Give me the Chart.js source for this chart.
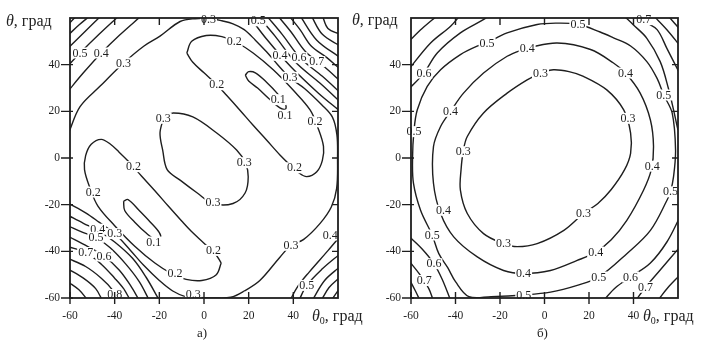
<!DOCTYPE html>
<html lang="ru">
<head>
<meta charset="UTF-8">
<title>Контурные карты</title>
<script src="https://cdn.jsdelivr.net/npm/chart.js@4.4.1/dist/chart.umd.min.js"></script>
<style>
  body { margin: 0; background: #fff; }
  #wrap { position: relative; width: 701px; height: 340px; font-family: "Liberation Serif", serif; color: #222; }
  canvas { position: absolute; top: 0; }
  #cl { left: 0; }
  #cr { left: 350px; }
  .t { position: absolute; font-size: 16px; white-space: nowrap; line-height: 16px; }
  .t i { font-style: italic; }
  .t .s { font-size: 10px; position: relative; top: 3px; }
  .cap { position: absolute; font-size: 13px; line-height: 14px; }
</style>
</head>
<body>
<div id="wrap">
  <canvas id="cl" width="350" height="340"></canvas>
  <canvas id="cr" width="351" height="340"></canvas>
  <div class="t" style="left:6px;top:13px"><i>θ</i>, град</div>
  <div class="t" style="left:352px;top:12px"><i>θ</i>, град</div>
  <div class="t" style="left:312px;top:308px"><i>θ</i><span class="s">0</span>, град</div>
  <div class="t" style="left:643px;top:308px"><i>θ</i><span class="s">0</span>, град</div>
  <div class="cap" style="left:197px;top:326px">а)</div>
  <div class="cap" style="left:537px;top:326px">б)</div>
</div>
<script>
// tick values, both axes, both plots
const tickValues = [-60, -40, -20, 0, 20, 40, 60];

// plot a): contour polylines, [x, y] in degrees
const leftLines = [
  // 0.1 islands
  [[18.5,35.5],[20,37],[23,36.5],[28,32.5],[33,27.5],[36.5,23],[36.5,21],[34,21.5],[29,25.5],[24,30],[20,33],[18.5,35.5]],
  [[-36,-18.5],[-34,-17.8],[-29,-22.5],[-24,-27.5],[-20,-32],[-19.5,-34.5],[-21.5,-35],[-25.5,-32.5],[-31,-27.5],[-35.5,-22.5],[-36,-18.5]],
  // 0.2 loops
  [[-7.7,45],[-5.5,50],[1,52.5],[8,52],[14.6,49.5],[22,45],[31,37.8],[40,29],[47.5,20.6],[51,13],[53.5,5],[53,-1],[50.5,-5.9],[46,-8],[42,-6],[38,-2.5],[34,1.3],[28,7.7],[22,14],[16,20.6],[10,27],[5.7,31.4],[0,36.5],[-5,41],[-7.7,45]],
  [[7.7,-45],[5.5,-50],[-1,-52.5],[-8,-52],[-14.6,-49.5],[-22,-45],[-31,-37.8],[-40,-29],[-47.5,-20.6],[-51,-13],[-53.5,-5],[-53,1],[-50.5,5.9],[-46,8],[-42,6],[-38,2.5],[-34,-1.3],[-28,-7.7],[-22,-14],[-16,-20.6],[-10,-27],[-5.7,-31.4],[0,-36.5],[5,-41],[7.7,-45]],
  // 0.3 centre
  [[-18,17.5],[-13.8,19.3],[-5,17.6],[5.7,10.7],[14.6,3.4],[18.5,-2],[19.8,-8],[18.4,-15],[13,-19.5],[4,-19.5],[-3,-15],[-10.7,-9.5],[-16.5,-5],[-18.5,3.4],[-19.7,10.7],[-18,17.5]],
  // 0.3 along the border
  [[-60.5,11],[-55.5,22],[-46.6,30.7],[-36,40.7],[-27,47.9],[-19.7,52.2],[-10.7,58.5],[-4,59.7],[3,59.7],[8,58.8],[13,57.5],[18,55],[23,50.5],[28,45.5],[33,40],[38.5,34.4],[45,29.8],[52.7,22.8],[57.5,17.5],[59.5,10],[59.8,0],[59.4,-13],[57,-21],[52,-28],[44.5,-35],[39,-37.4],[34,-42.5],[25,-52.5],[18,-57],[12,-59.7],[5,-60],[-3,-59.7],[-8,-59.5],[-14,-57],[-20,-52.5],[-27,-46],[-33,-39.5],[-40,-32.4],[-47,-27.5],[-53,-23.5],[-60.5,-19.5]],
  // top-left corner 0.4..0.8
  [[-61,28.5],[-54,36.5],[-46,45],[-38,52.5],[-28,61]],
  [[-61,39.5],[-55.5,45],[-47,53],[-38,61]],
  [[-61,47],[-53.5,54],[-46,61]],
  [[-61,52.5],[-56,57],[-51,61]],
  [[-61,57],[-57,61]],
  // top-right corner 0.4..1.1
  [[20,61],[28,51],[39,39],[51,28],[61,20]],
  [[24,61],[32,52],[41,41],[52,32],[61,24]],
  [[28,61],[35,53],[43,43],[53,35],[61,28]],
  [[33,61],[39,54],[45.5,45.5],[54,39],[61,33]],
  [[38,61],[43,55],[48,48],[55,43],[61,38]],
  [[43,61],[50.5,50.5],[61,43]],
  [[48,61],[53,53],[61,48]],
  [[53,61],[55.5,55.5],[61,53]],
  // bottom-left corner 0.4..1.0
  [[-61,-24.5],[-54,-28],[-47.6,-31],[-40,-36],[-32,-43],[-26,-51],[-20,-61]],
  [[-61,-29],[-54,-32],[-48.4,-34],[-42,-38.5],[-35,-45.5],[-29,-53],[-24.5,-61]],
  [[-61,-33.5],[-52,-38],[-44.8,-42],[-38,-48],[-33,-54.5],[-29,-61]],
  [[-61,-38],[-53,-40.5],[-46,-45.5],[-40,-51.5],[-36,-56],[-33,-61]],
  [[-61,-43],[-53,-46.5],[-46,-51.5],[-41,-56.5],[-38.5,-61]],
  [[-61,-47.5],[-54,-51.5],[-48.5,-56],[-45.5,-61]],
  [[-61,-53],[-56,-56.5],[-52,-61]],
  // bottom-right corner 0.4..0.8
  [[61,-33.5],[55.6,-39.6],[47,-49],[42,-55],[38.5,-61]],
  [[61,-41],[53,-47.5],[46,-54.6],[42.5,-61]],
  [[61,-46.5],[54,-52.5],[48.5,-61]],
  [[61,-51],[56,-55.5],[52.5,-61]],
  [[61,-55.5],[57,-61]]
];

// plot a): contour labels [text, x, y]
const leftLabels = [
  ['0.5', -55.5, 45], ['0.4', -46, 45], ['0.3', -36, 40.7], ['0.3', 2, 59.6],
  ['0.5', 24.3, 58.8], ['0.2', 13.5, 50], ['0.2', 5.7, 31.4], ['0.4', 34, 44],
  ['0.6', 42.5, 43], ['0.7', 50.5, 41.3], ['0.3', 38.5, 34.6], ['0.1', 33.3, 25],
  ['0.1', 36.3, 18.3], ['0.2', 49.7, 15.5], ['0.3', -18.3, 17], ['0.3', 18, -2],
  ['0.2', 40.5, -4.2], ['0.2', -31.6, -3.7], ['0.2', -49.6, -14.6], ['0.3', 4, -18.8],
  ['0.2', 4.2, -39.6], ['0.2', -13, -49.6], ['0.3', -4.8, -58.5], ['0.8', -40, -58.5],
  ['0.1', -22.5, -36], ['0.4', -47.6, -30.5], ['0.5', -48.4, -34], ['0.3', -40, -32.4],
  ['0.7', -53, -40.5], ['0.6', -44.8, -42], ['0.3', 39, -37.4], ['0.4', 56.5, -33],
  ['0.5', 46, -54.6]
];

// plot б): contour polylines
const rightLines = [
  // 0.3
  [[-1.8,36.4],[4,37.8],[11,37],[17.5,35],[28,29.2],[35.6,20.6],[38.7,10.7],[38.7,2],[36,-5],[30,-13.5],[24,-19.5],[17.5,-23.8],[8.7,-31],[-3.3,-36.7],[-12.3,-38],[-18.4,-36.7],[-27.4,-32.4],[-34.7,-23.8],[-37.8,-13.8],[-37.5,-5],[-36.5,3],[-34.7,9.2],[-27.4,19.3],[-16.8,27.8],[-7.8,33.5],[-1.8,36.4]],
  // 0.4
  [[-7.8,47.2],[5.7,49.3],[20.7,46.5],[31,40.7],[36.4,36.4],[43,27.8],[47.6,16.3],[49,4.9],[48,-5],[44.5,-13.8],[37,-26.7],[30,-35],[23,-40.3],[14.7,-43.9],[2.7,-48.2],[-9.4,-49.5],[-18.4,-48.2],[-30.2,-42.4],[-40.8,-33.8],[-46.7,-23.8],[-49.9,-10.8],[-49.9,4.9],[-46.7,13.5],[-42.2,20],[-36.4,27.8],[-27.4,36.4],[-16.8,43.6],[-7.8,47.2]],
  // 0.5
  [[-25.8,49.3],[-16.8,53.6],[-3.3,57.2],[5,57.8],[15,57.3],[25,54],[31,51.5],[38.7,48],[46,41.3],[50.6,34.1],[53.6,27],[57.4,19.2],[58.9,3.4],[58,-8],[56.6,-14.5],[55.1,-18],[47.6,-31],[37,-41],[24.4,-51],[14.7,-54.6],[2.7,-57.5],[-9.3,-58.7],[-24,-59.4],[-34,-59.4],[-40,-53],[-43.5,-47],[-47.5,-41],[-50.5,-33],[-55.7,-22.4],[-58.9,-10.8],[-59.3,0],[-58.7,11.3],[-57.2,20.6],[-52.7,30.7],[-46.7,37.8],[-37.8,44.3],[-30.3,47.9],[-25.8,49.3]],
  // 0.6
  [[-61,29.5],[-54.2,36.4],[-48.2,45],[-37.8,53.6],[-27.3,59.4],[-25,61]],
  [[35.6,61],[40,57],[46,51.3],[52,41.3],[55.7,29.8],[58.2,19.8],[60,12],[61,9]],
  [[61,-25],[55,-36],[47.6,-45],[38.7,-51],[32,-55.5],[26.6,-61]],
  [[-61,-33.5],[-55,-39],[-49.7,-45.3],[-46,-52],[-42.2,-61]],
  // 0.7
  [[-61,38],[-51.2,49.3],[-42.2,56.5],[-38,61]],
  [[41.6,61],[45,58.5],[50.6,55],[55,47],[59.6,38.4],[61,36]],
  [[61,-38],[52,-48],[45.4,-55.4],[41,-61]],
  [[-61,-44],[-56,-50],[-52,-56],[-50,-61]],
  // 0.8, 0.9
  [[-61,50],[-55,55.5],[-48.2,61]],
  [[49,61],[55,55],[61,48]],
  [[55.5,61],[61,55]],
  [[61,-50],[55.5,-55.5],[51,-61]],
  [[-61,-51.5],[-58,-57],[-56,-61]]
];

const rightLabels = [
  ['0.5', -25.8, 49.3], ['0.4', -7.8, 47.2], ['0.5', 15, 57.3], ['0.7', 44.6, 59.3],
  ['0.6', -54.2, 36.4], ['0.3', -1.8, 36.4], ['0.4', 36.4, 36.4], ['0.5', 53.6, 27],
  ['0.4', -42.2, 20], ['0.3', 37.5, 17], ['0.5', -58.7, 11.3], ['0.3', -36.5, 2.7],
  ['0.4', 48.4, -3.5], ['0.5', 56.6, -14.5], ['0.4', -45.4, -22.4], ['0.3', 17.5, -23.8],
  ['0.5', -50.5, -33], ['0.3', -18.4, -36.7], ['0.4', 23, -40.3], ['0.6', -49.7, -45.3],
  ['0.4', -9.4, -49.5], ['0.5', 24.4, -51], ['0.6', 38.7, -51], ['0.7', -54, -52.5],
  ['0.7', 45.4, -55.4], ['0.5', -9.3, -58.7]
];

const ink = '#1e1e1e';
const serif = '"Liberation Serif", "Times New Roman", serif';

// box round the plot area plus the small tick marks on all four sides
const framePlugin = {
  id: 'frame',
  afterDraw(chart) {
    const ctx = chart.ctx, a = chart.chartArea;
    const x = chart.scales.x, y = chart.scales.y;
    ctx.save();
    ctx.strokeStyle = ink;
    ctx.lineWidth = 1.8;
    ctx.strokeRect(a.left, a.top, a.right - a.left, a.bottom - a.top);
    ctx.lineWidth = 1.4;
    ctx.beginPath();
    tickValues.forEach(v => {
      const px = x.getPixelForValue(v), py = y.getPixelForValue(v);
      if (v < 60) {
        ctx.moveTo(px, a.bottom - 6); ctx.lineTo(px, a.bottom + 6);
        ctx.moveTo(a.left - 9, py); ctx.lineTo(a.left + 3, py);
      }
      if (v > -60 && v < 60) {
        ctx.moveTo(px, a.top); ctx.lineTo(px, a.top + 7);
        ctx.moveTo(a.right, py); ctx.lineTo(a.right - 6, py);
      }
    });
    ctx.stroke();
    ctx.restore();
  }
};

// level values written on the lines, with a white gap under them
function labelPlugin(list) {
  return {
    id: 'contourLabels',
    afterDatasetsDraw(chart) {
      const ctx = chart.ctx, x = chart.scales.x, y = chart.scales.y;
      ctx.save();
      ctx.font = '12px ' + serif;
      ctx.textAlign = 'center';
      ctx.textBaseline = 'middle';
      list.forEach(([t, vx, vy]) => {
        const px = x.getPixelForValue(vx), py = y.getPixelForValue(vy);
        const w = ctx.measureText(t).width;
        ctx.fillStyle = '#fff';
        ctx.fillRect(px - w / 2 - 1, py - 5.5, w + 2, 11);
        ctx.fillStyle = ink;
        ctx.fillText(t, px, py + 0.5);
      });
      ctx.restore();
    }
  };
}

function axis(pos, size, pad) {
  return {
    type: 'linear', position: pos, min: -60, max: 60,
    grid: { display: false, drawTicks: false },
    border: { display: false },
    afterBuildTicks: s => { s.ticks = tickValues.map(v => ({ value: v })); },
    afterFit: s => { if (pos === 'left') s.width = size; else s.height = size; },
    ticks: {
      padding: pad, color: ink, autoSkip: false, maxRotation: 0,
      font: { family: serif, size: 11.5 },
      callback: v => (v === 60 ? '' : String(v))
    }
  };
}

function makeChart(id, lines, labels, yWidth, padRight) {
  return new Chart(document.getElementById(id), {
    type: 'scatter',
    data: {
      datasets: lines.map(pts => ({
        data: pts.map(p => ({ x: p[0], y: p[1] })),
        showLine: true,
        pointRadius: 0,
        borderColor: '#1e1e1e',
        borderWidth: 1.4,
        tension: 0.35
      }))
    },
    options: {
      responsive: false,
      animation: false,
      events: [],
      elements: { line: { capBezierPoints: false } },
      layout: { padding: { left: 0, right: padRight, top: 18, bottom: 12 } },
      plugins: { legend: { display: false }, tooltip: { enabled: false } },
      scales: { x: axis('bottom', 30, 11), y: axis('left', yWidth, 10) }
    },
    plugins: [labelPlugin(labels), framePlugin]
  });
}

makeChart('cl', leftLines, leftLabels, 70, 12);
makeChart('cr', rightLines, rightLabels, 61, 23);
</script>
</body>
</html>
